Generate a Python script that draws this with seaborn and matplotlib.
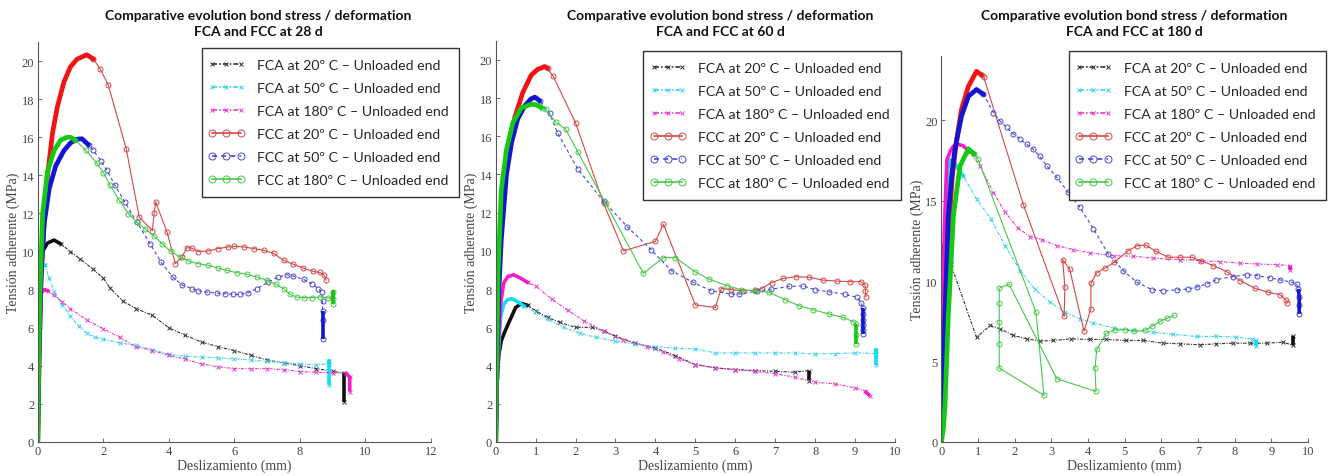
import matplotlib
matplotlib.use("Agg")
import matplotlib.pyplot as plt
import seaborn as sns
import numpy as np

# ---------------- DATA ----------------
PANEL_TITLES = ["Comparative evolution bond stress / deformation\nFCA and FCC at 28 d",
                "Comparative evolution bond stress / deformation\nFCA and FCC at 60 d",
                "Comparative evolution bond stress / deformation\nFCA and FCC at 180 d"]
SERIES_LABELS = ["FCA at 20º C – Unloaded end", "FCA at 50º C – Unloaded end",
                 "FCA at 180º C – Unloaded end", "FCC at 20º C – Unloaded end",
                 "FCC at 50º C – Unloaded end", "FCC at 180º C – Unloaded end"]
X_LABEL = "Deslizamiento (mm)"
Y_LABEL = "Tensión adherente (MPa)"

# ---- 28 d ----
d28_fca20_x = [0, 0.03, 0.08, 0.15, 0.3, 0.5, 0.7, 1.0, 1.3, 1.7, 2.0, 2.2, 2.6, 3.0, 3.5, 4.0, 4.5, 5.0, 5.5, 6.0, 6.5, 7.0, 7.5, 8.0, 8.5, 9.0, 9.35, 9.35]
d28_fca20_y = [0, 5.0, 8.5, 10.0, 10.45, 10.6, 10.4, 10.0, 9.6, 9.06, 8.6, 8.1, 7.4, 7.0, 6.65, 6.0, 5.6, 5.25, 5.0, 4.8, 4.55, 4.3, 4.15, 4.0, 3.85, 3.72, 3.6, 2.1]
d28_fca50_x = [0, 0.03, 0.08, 0.15, 0.22, 0.35, 0.5, 0.75, 1.0, 1.25, 1.5, 1.75, 2.0, 2.5, 3.0, 3.5, 4.0, 4.5, 5.0, 5.5, 6.0, 6.5, 7.0, 7.5, 8.0, 8.5, 8.88, 8.88, 8.88]
d28_fca50_y = [0, 4.0, 7.5, 9.2, 9.3, 8.6, 7.9, 7.2, 6.6, 6.1, 5.7, 5.5, 5.4, 5.2, 5.07, 4.85, 4.6, 4.5, 4.46, 4.42, 4.37, 4.3, 4.23, 4.17, 4.1, 4.05, 4.1, 4.25, 3.0]
d28_fca180_x = [0, 0.03, 0.1, 0.2, 0.3, 0.5, 0.75, 1.0, 1.5, 2.0, 2.5, 3.0, 3.5, 4.0, 4.5, 5.0, 5.5, 6.0, 6.5, 7.0, 7.5, 8.0, 8.5, 9.0, 9.4, 9.52, 9.52]
d28_fca180_y = [0, 4.0, 7.8, 8.0, 7.95, 7.7, 7.35, 7.0, 6.4, 5.95, 5.5, 4.99, 4.8, 4.55, 4.35, 4.1, 3.95, 3.85, 3.85, 3.85, 3.8, 3.7, 3.66, 3.64, 3.62, 3.4, 2.65]
d28_fcc20_x = [0, 0.04, 0.1, 0.2, 0.3, 0.45, 0.6, 0.8, 1.0, 1.2, 1.5, 1.7, 1.9, 2.15, 2.7, 3.1, 3.5, 3.55, 3.6, 3.95, 4.2, 4.4, 4.55, 4.7, 4.9, 5.2, 5.5, 5.8, 6.0, 6.3, 6.6, 6.9, 7.2, 7.5, 7.8, 8.1, 8.4, 8.6, 8.75, 8.8]
d28_fcc20_y = [0, 4.0, 8.5, 11.8, 14.0, 16.2, 17.6, 18.9, 19.7, 20.1, 20.33, 20.1, 19.6, 18.76, 15.4, 11.8, 11.1, 12.0, 12.6, 11.0, 9.36, 9.7, 10.2, 10.18, 10.0, 10.03, 10.15, 10.24, 10.27, 10.24, 10.15, 10.06, 9.9, 9.54, 9.33, 9.13, 8.96, 8.9, 8.75, 8.49]
d28_fcc50_x = [0, 0.04, 0.1, 0.2, 0.35, 0.55, 0.8, 1.0, 1.2, 1.35, 1.55, 1.7, 1.93, 2.11, 2.36, 2.66, 3.02, 3.43, 3.76, 4.12, 4.39, 4.7, 4.9, 5.16, 5.46, 5.72, 5.97, 6.17, 6.43, 6.68, 7.04, 7.34, 7.6, 7.8, 8.11, 8.36, 8.56, 8.66, 8.69, 8.69, 8.69, 8.69]
d28_fcc50_y = [0, 4.5, 8.8, 11.5, 13.3, 14.5, 15.3, 15.7, 15.9, 15.92, 15.6, 15.31, 14.75, 14.26, 13.47, 12.6, 11.55, 10.41, 9.45, 8.66, 8.26, 8.05, 7.94, 7.87, 7.82, 7.79, 7.75, 7.75, 7.84, 8.05, 8.4, 8.66, 8.78, 8.71, 8.54, 8.31, 8.05, 7.87, 7.4, 6.9, 6.4, 5.4]
d28_fcc180_x = [0, 0.03, 0.07, 0.15, 0.3, 0.5, 0.7, 0.9, 1.0, 1.15, 1.47, 1.8, 2.0, 2.21, 2.49, 2.77, 3.02, 3.27, 3.55, 3.8, 4.06, 4.34, 4.6, 4.9, 5.21, 5.51, 5.77, 6.07, 6.38, 6.68, 6.99, 7.27, 7.5, 7.7, 7.9, 8.11, 8.36, 8.61, 8.87, 9.02, 9.02, 9.02]
d28_fcc180_y = [0, 4.0, 8.0, 12.0, 14.2, 15.3, 15.85, 16.0, 16.0, 15.85, 15.31, 14.65, 14.14, 13.47, 12.69, 11.99, 11.55, 11.2, 10.81, 10.41, 10.01, 9.71, 9.5, 9.36, 9.27, 9.13, 9.01, 8.89, 8.8, 8.66, 8.49, 8.28, 8.05, 7.75, 7.61, 7.58, 7.58, 7.61, 7.56, 7.52, 7.85, 7.22]

# ---- 60 d ----
d60_fca20_x = [0, 0.03, 0.08, 0.14, 0.22, 0.35, 0.5, 0.65, 0.8, 1.0, 1.3, 1.6, 2.0, 2.4, 2.7, 3.0, 3.5, 4.0, 4.5, 5.0, 5.5, 6.0, 6.5, 7.0, 7.5, 7.85, 7.85]
d60_fca20_y = [0, 3.0, 4.6, 5.3, 5.73, 6.35, 7.04, 7.25, 7.15, 6.87, 6.52, 6.26, 6.0, 6.0, 5.83, 5.53, 5.17, 4.92, 4.52, 4.05, 3.88, 3.79, 3.74, 3.70, 3.65, 3.74, 3.2]
d60_fca50_x = [0, 0.05, 0.12, 0.2, 0.3, 0.4, 0.5, 0.7, 1.0, 1.3, 1.7, 2.1, 2.5, 3.0, 3.5, 4.0, 4.5, 5.0, 5.5, 6.0, 6.5, 7.0, 7.5, 8.0, 8.5, 9.0, 9.52, 9.52, 9.52]
d60_fca50_y = [0, 4.0, 6.5, 7.2, 7.45, 7.5, 7.4, 7.13, 6.78, 6.43, 6.0, 5.7, 5.48, 5.27, 5.13, 4.99, 4.9, 4.87, 4.66, 4.66, 4.66, 4.66, 4.66, 4.61, 4.63, 4.66, 4.63, 4.8, 4.05]
d60_fca180_x = [0, 0.05, 0.12, 0.2, 0.3, 0.45, 0.6, 0.8, 1.0, 1.4, 1.8, 2.2, 2.7, 3.2, 3.8, 4.2, 4.6, 5.0, 5.5, 6.0, 6.5, 7.0, 7.5, 8.0, 8.5, 9.0, 9.25, 9.37]
d60_fca180_y = [0, 4.5, 7.2, 8.3, 8.65, 8.75, 8.6, 8.35, 8.17, 7.48, 6.9, 6.35, 5.79, 5.34, 4.99, 4.7, 4.35, 4.05, 3.88, 3.79, 3.70, 3.57, 3.39, 3.13, 3.04, 2.83, 2.66, 2.42]
d60_fcc20_x = [0, 0.03, 0.07, 0.12, 0.22, 0.35, 0.48, 0.68, 0.89, 1.05, 1.23, 1.3, 1.44, 2.0, 2.7, 3.2, 4.0, 4.2, 5.0, 5.5, 5.65, 5.9, 6.2, 6.5, 6.66, 6.91, 7.2, 7.52, 7.85, 8.2, 8.54, 8.87, 9.14, 9.25, 9.26, 9.27]
d60_fcc20_y = [0, 4.0, 8.0, 11.0, 14.1, 15.8, 17.0, 18.3, 19.2, 19.5, 19.65, 19.55, 19.13, 16.7, 12.5, 10.0, 10.5, 11.4, 7.17, 7.04, 8.03, 7.97, 7.91, 7.95, 8.03, 8.34, 8.56, 8.65, 8.62, 8.47, 8.42, 8.39, 8.39, 8.2, 7.9, 7.59]
d60_fcc50_x = [0, 0.03, 0.08, 0.14, 0.27, 0.4, 0.55, 0.73, 0.88, 0.98, 1.1, 1.35, 1.55, 2.05, 2.7, 3.3, 3.9, 4.4, 4.95, 5.4, 5.9, 6.1, 6.55, 6.9, 7.35, 7.7, 8.0, 8.35, 8.75, 9.05, 9.15, 9.19, 9.19, 9.19, 9.19, 9.19, 9.19]
d60_fcc50_y = [0, 4.0, 8.0, 10.6, 14.0, 15.7, 16.9, 17.6, 17.95, 18.05, 17.86, 17.2, 16.17, 14.3, 12.6, 11.25, 10.05, 8.96, 8.35, 7.91, 7.74, 7.74, 7.9, 8.0, 8.14, 8.17, 7.97, 7.86, 7.72, 7.57, 7.3, 7.0, 6.7, 6.4, 6.1, 5.85, 5.65]
d60_fcc180_x = [0, 0.02, 0.06, 0.14, 0.27, 0.43, 0.64, 0.89, 1.0, 1.15, 1.25, 1.5, 1.75, 2.05, 2.75, 3.7, 4.2, 4.5, 5.0, 5.35, 5.8, 6.15, 6.5, 6.85, 7.25, 7.6, 7.95, 8.35, 8.7, 8.95, 9.02, 9.02, 9.02]
d60_fcc180_y = [0, 3.6, 8.9, 13.2, 15.3, 16.7, 17.48, 17.68, 17.65, 17.5, 17.4, 16.75, 16.38, 15.2, 12.5, 8.82, 9.65, 9.65, 8.9, 8.52, 8.17, 7.97, 7.91, 7.83, 7.44, 7.13, 6.92, 6.7, 6.52, 6.3, 6.17, 5.6, 5.13]

# ---- 180 d ----
d180_fca20_x = [0, 0.01, 0.26, 0.96, 1.33, 1.6, 1.96, 2.33, 2.7, 3.05, 3.55, 4.05, 4.5, 5.05, 5.5, 6.05, 6.5, 7.05, 7.5, 7.96, 8.42, 8.87, 9.33, 9.6, 9.6]
d180_fca20_y = [0, 12.2, 11.04, 6.5, 7.24, 7.03, 6.62, 6.41, 6.27, 6.31, 6.41, 6.37, 6.37, 6.31, 6.31, 6.14, 6.1, 6.04, 6.1, 6.14, 6.14, 6.14, 6.2, 6.0, 6.6]
d180_fca50_x = [0, 0.04, 0.1, 0.18, 0.25, 0.32, 0.45, 0.6, 0.96, 1.35, 1.74, 2.15, 2.55, 2.96, 3.37, 3.78, 4.15, 4.7, 5.24, 5.78, 6.33, 6.96, 7.5, 8.05, 8.46, 8.57, 8.57]
d180_fca50_y = [0, 6.0, 13.0, 17.0, 17.52, 17.5, 17.0, 16.52, 15.1, 13.86, 12.2, 10.65, 9.51, 8.69, 8.07, 7.65, 7.4, 7.07, 6.93, 6.83, 6.68, 6.56, 6.56, 6.51, 6.41, 6.31, 5.94]
d180_fca180_x = [0, 0.03, 0.08, 0.15, 0.25, 0.33, 0.45, 0.6, 0.78, 1.05, 1.42, 1.74, 2.1, 2.42, 2.74, 3.15, 3.6, 4.05, 4.7, 5.24, 5.78, 6.5, 7.05, 7.6, 8.15, 8.6, 9.15, 9.5, 9.5]
d180_fca180_y = [0, 6.0, 13.0, 17.5, 18.1, 18.38, 18.5, 18.4, 18.0, 17.17, 15.5, 14.27, 13.28, 12.76, 12.58, 12.2, 11.95, 11.75, 11.58, 11.54, 11.42, 11.33, 11.27, 11.21, 11.11, 11.06, 11.02, 10.96, 10.7]
d180_fcc20_x = [0, 0.05, 0.12, 0.2, 0.3, 0.42, 0.55, 0.74, 0.96, 1.1, 1.16, 2.24, 3.35, 3.37, 3.31, 3.5, 3.89, 4.08, 4.08, 4.24, 4.46, 4.72, 5.1, 5.35, 5.57, 5.85, 6.19, 6.5, 6.83, 7.07, 7.42, 7.78, 8.15, 8.55, 8.92, 9.24, 9.4, 9.44]
d180_fcc20_y = [0, 4.0, 9.0, 13.0, 16.5, 18.8, 20.66, 22.1, 23.03, 22.8, 22.65, 14.73, 7.8, 9.62, 11.33, 10.75, 6.89, 8.27, 9.87, 10.51, 10.8, 11.17, 11.89, 12.2, 12.24, 11.85, 11.48, 11.48, 11.48, 11.27, 10.96, 10.59, 10.03, 9.55, 9.31, 9.14, 8.85, 8.64]
d180_fcc50_x = [0, 0.0, 0.05, 0.1, 0.19, 0.28, 0.37, 0.55, 0.74, 0.96, 1.15, 1.42, 1.6, 1.78, 1.96, 2.15, 2.33, 2.5, 2.68, 2.87, 3.15, 3.46, 3.78, 4.15, 4.55, 4.96, 5.33, 5.74, 6.05, 6.42, 6.74, 6.96, 7.24, 7.5, 7.96, 8.33, 8.6, 8.96, 9.24, 9.55, 9.69, 9.74, 9.76, 9.76, 9.76]
d180_fcc50_y = [0, 0.6, 3.7, 7.8, 14.0, 16.5, 18.17, 20.24, 21.48, 21.9, 21.6, 20.47, 19.95, 19.54, 19.15, 18.82, 18.5, 18.2, 17.75, 17.17, 16.44, 15.51, 14.58, 13.24, 11.69, 10.65, 9.93, 9.47, 9.39, 9.45, 9.51, 9.62, 9.82, 10.09, 10.28, 10.4, 10.34, 10.2, 10.07, 9.93, 9.82, 9.51, 9.0, 8.5, 7.96]
d180_fcc180_x = [0, 0.05, 0.1, 0.19, 0.33, 0.51, 0.74, 0.9, 1.0, 2.58, 2.8, 1.58, 1.58, 1.58, 1.58, 1.58, 1.85, 3.15, 4.22, 4.19, 4.24, 4.5, 4.74, 5.0, 5.26, 5.55, 5.74, 5.96, 6.16, 6.35]
d180_fcc180_y = [0, 0.7, 2.2, 7.8, 14.04, 17.14, 18.22, 17.9, 17.58, 8.07, 2.9, 4.59, 6.1, 7.45, 8.65, 9.56, 9.8, 3.93, 3.14, 4.59, 5.75, 6.76, 6.97, 6.97, 6.89, 6.93, 7.18, 7.49, 7.69, 7.86]

PANEL_SERIES = [
    [(d28_fca20_x, d28_fca20_y), (d28_fca50_x, d28_fca50_y), (d28_fca180_x, d28_fca180_y),
     (d28_fcc20_x, d28_fcc20_y), (d28_fcc50_x, d28_fcc50_y), (d28_fcc180_x, d28_fcc180_y)],
    [(d60_fca20_x, d60_fca20_y), (d60_fca50_x, d60_fca50_y), (d60_fca180_x, d60_fca180_y),
     (d60_fcc20_x, d60_fcc20_y), (d60_fcc50_x, d60_fcc50_y), (d60_fcc180_x, d60_fcc180_y)],
    [(d180_fca20_x, d180_fca20_y), (d180_fca50_x, d180_fca50_y), (d180_fca180_x, d180_fca180_y),
     (d180_fcc20_x, d180_fcc20_y), (d180_fcc50_x, d180_fcc50_y), (d180_fcc180_x, d180_fcc180_y)],
]

X_TICKS = [np.arange(0, 13, 2), np.arange(0, 11, 1), np.arange(0, 11, 1)]
Y_TICKS = [np.arange(0, 21, 2), np.arange(0, 21, 2), np.arange(0, 21, 5)]
X_LIMS = [(0, 12), (0, 10), (0, 10)]
Y_LIMS = [(0, 21), (0, 21), (0, 24)]

# ---------------- STYLE ----------------
THICK_COLORS = ["#111111", "#10dcf5", "#f51cc8", "#f01414", "#1414d2", "#14c814"]
THIN_COLORS = ["#333333", "#3ad2ea", "#e040c8", "#d44848", "#4848d0", "#48c848"]
LINESTYLES = [(0, (3, 1.2, 1, 1.2)), (0, (3, 1.2, 1, 1.2)), (0, (3, 1.2, 1, 1.2)),
              "-", (0, (3, 2.5)), "-"]
MARKERS = ["x", "x", "x", "o", "o", "o"]
MS = [2.2, 2.2, 2.2, 3.6, 3.6, 3.6]
HEAD_N = [
    [7, 5, 5, 12, 11, 10],
    [9, 8, 8, 12, 11, 10],
    [2, 8, 9, 10, 11, 8],
]
TAIL_N = [
    [2, 3, 3, 0, 3, 3],
    [2, 3, 2, 0, 6, 3],
    [2, 2, 2, 0, 4, 0],
]
AX_RECTS = [
    [37.7 / 1331, 1 - 443 / 477, (431 - 37.7) / 1331, (443 - 43) / 477],
    [495.7 / 1331, 1 - 443 / 477, (895 - 495.7) / 1331, (443 - 41.7) / 477],
    [941.3 / 1331, 1 - 443 / 477, (1308 - 941.3) / 1331, (443 - 56.7) / 477],
]
TITLE_X = [258 / 1331, 720 / 1331, 1134 / 1331]
LEGEND_XY = [(201.7 / 1331, 1 - 49 / 477), (643 / 1331, 1 - 52 / 477), (1068.7 / 1331, 1 - 52 / 477)]

sns.set_theme(style="white")
plt.rcParams["font.family"] = ["Liberation Serif", "DejaVu Serif"]

fig = plt.figure(figsize=(13.31, 4.77), dpi=100)

for p in range(3):
    ax = fig.add_axes(AX_RECTS[p])
    handles = []
    for s in range(6):
        xs, ys = PANEL_SERIES[p][s]
        xs = np.asarray(xs, float)
        ys = np.asarray(ys, float)
        h = HEAD_N[p][s]
        t = TAIL_N[p][s]
        sns.lineplot(x=xs, y=ys, sort=False, estimator=None, ax=ax, color=THIN_COLORS[s],
                     lw=0.8, linestyle=LINESTYLES[s], marker=MARKERS[s], ms=MS[s],
                     mfc="none" if MARKERS[s] == "o" else THIN_COLORS[s],
                     mec=THIN_COLORS[s], mew=0.7,
                     markevery=slice(max(h - 1, 0), len(xs)), legend=False)
        handles.append(ax.lines[-1])
        lw_thick = 3.4 if s >= 3 else 2.6
        if h > 1:
            sns.lineplot(x=xs[:h], y=ys[:h], sort=False, estimator=None, ax=ax,
                         color=THICK_COLORS[s], lw=lw_thick, legend=False,
                         solid_capstyle="round")
        if t > 1:
            sns.lineplot(x=xs[-t:], y=ys[-t:], sort=False, estimator=None, ax=ax,
                         color=THICK_COLORS[s], lw=2.6, legend=False,
                         solid_capstyle="butt")

    ax.set_xlim(*X_LIMS[p])
    ax.set_ylim(*Y_LIMS[p])
    ax.set_xticks(X_TICKS[p])
    ax.set_yticks(Y_TICKS[p])
    ax.set_xlabel(X_LABEL, fontsize=10, color="#444444", labelpad=1)
    ax.set_ylabel(Y_LABEL, fontsize=10, color="#444444", labelpad=1)
    ax.tick_params(direction="in", length=3, width=0.6, color="#555555",
                   labelsize=9, labelcolor="#444444", pad=2.5,
                   bottom=True, left=True)
    for side in ["top", "right"]:
        ax.spines[side].set_visible(False)
    for side in ["left", "bottom"]:
        ax.spines[side].set_color("#555555")
        ax.spines[side].set_linewidth(0.8)
    ax.patch.set_alpha(0)

    leg = ax.legend(handles, SERIES_LABELS, loc="upper left", bbox_to_anchor=LEGEND_XY[p],
                    bbox_transform=fig.transFigure, borderaxespad=0, frameon=True,
                    fancybox=False, edgecolor="#333333", framealpha=1,
                    prop={"family": "Lato", "size": 10.2}, handlelength=2.0,
                    handletextpad=1.15, labelspacing=0.78, borderpad=0.75, markerscale=1.4)
    leg.get_frame().set_linewidth(1.0)
    for l in leg.get_lines():
        l.set_linewidth(1.2)
        l.set_markevery(None)

    fig.text(TITLE_X[p], 1 - 10 / 477, PANEL_TITLES[p], ha="center", va="top",
             fontsize=10, fontweight="bold", family="Lato", linespacing=1.45,
             color="#111111")

fig.savefig("out.png", dpi=100)
